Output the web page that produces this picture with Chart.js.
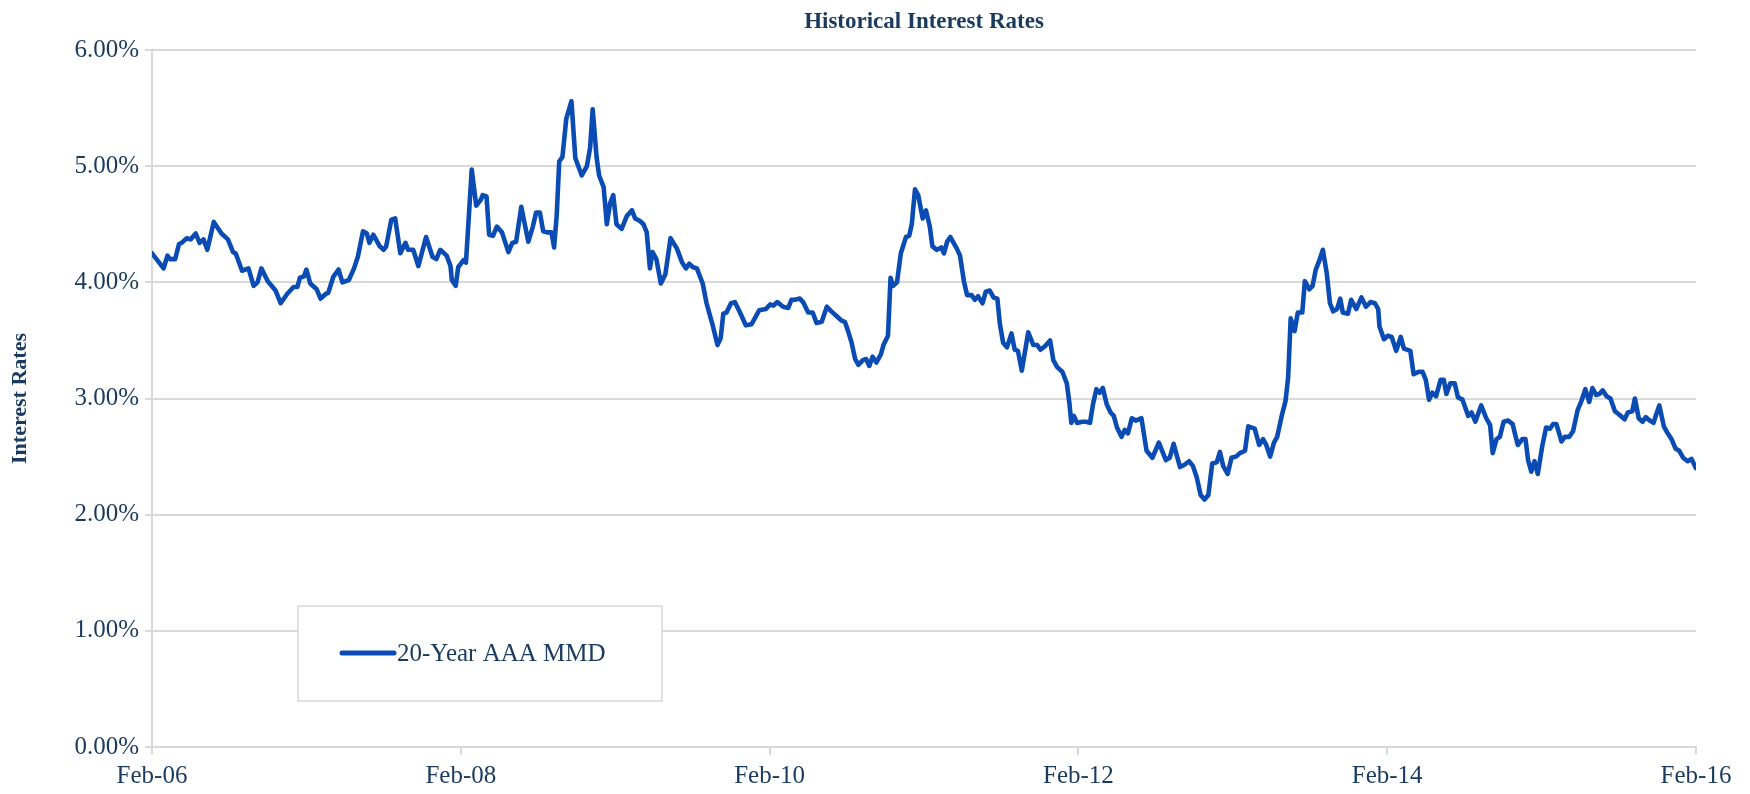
<!DOCTYPE html>
<html>
<head>
<meta charset="utf-8">
<title>Historical Interest Rates</title>
<script src="https://cdn.jsdelivr.net/npm/chart.js@4.4.1/dist/chart.umd.min.js"></script>
<style>
  html, body { margin: 0; padding: 0; background: #fff; }
  #wrap { width: 1750px; height: 794px; position: relative; }
</style>
</head>
<body>
<div id="wrap"><canvas id="rates"></canvas></div>
<script>
// months since Feb-06 (weekly-ish readings)
const obsMonths = [
  0, 0.9, 1.2, 1.4, 1.8, 2.1, 2.3, 2.7, 3.0, 3.4, 3.7, 4.0, 4.3, 4.8, 5.4, 5.9, 6.3, 6.5, 7.0, 7.5,
  7.9, 8.2, 8.5, 9.0, 9.6, 10.0, 10.5, 11.0, 11.3, 11.5, 11.8, 12.0, 12.3, 12.8, 13.1, 13.5, 13.7, 14.1, 14.5, 14.8,
  15.3, 15.7, 16.0, 16.4, 16.7, 16.9, 17.2, 17.7, 18.0, 18.2, 18.6, 18.9, 19.3, 19.7, 19.9, 20.3, 20.7, 21.3, 21.8, 22.1,
  22.4, 22.9, 23.2, 23.3, 23.6, 23.8, 24.2, 24.4, 24.85, 25.2, 25.55, 25.7, 26.0, 26.2, 26.5, 26.8, 27.2, 27.7, 28.0, 28.3,
  28.7, 28.9, 29.25, 29.6, 29.85, 30.15, 30.4, 30.7, 31.05, 31.25, 31.45, 31.65, 31.9, 32.2, 32.6, 32.9, 33.4, 33.8, 34.05, 34.25,
  34.55, 34.75, 35.1, 35.35, 35.6, 35.85, 36.1, 36.5, 36.9, 37.3, 37.55, 37.9, 38.2, 38.45, 38.7, 38.9, 39.2, 39.55, 39.9, 40.3,
  40.8, 41.2, 41.5, 41.75, 42.05, 42.35, 42.8, 43.1, 43.6, 43.95, 44.2, 44.4, 44.65, 45.0, 45.3, 45.7, 46.15, 46.6, 47.2, 47.7,
  48.05, 48.3, 48.6, 49.05, 49.45, 49.7, 49.95, 50.35, 50.6, 51.0, 51.35, 51.65, 52.05, 52.45, 52.8, 53.2, 53.6, 53.85, 54.1, 54.35,
  54.65, 54.9, 55.25, 55.5, 55.75, 56.0, 56.3, 56.65, 56.85, 57.2, 57.4, 57.6, 57.9, 58.2, 58.6, 58.85, 59.05, 59.3, 59.55, 59.9,
  60.15, 60.45, 60.65, 61.0, 61.35, 61.55, 61.8, 62.05, 62.55, 62.8, 63.1, 63.35, 63.7, 63.95, 64.2, 64.55, 64.8, 65.1, 65.4, 65.7,
  65.9, 66.15, 66.45, 66.8, 67.05, 67.3, 67.6, 68.1, 68.5, 68.8, 69.05, 69.4, 69.8, 70.05, 70.35, 70.75, 71.1, 71.3, 71.45, 71.65,
  71.9, 72.3, 72.6, 72.9, 73.15, 73.4, 73.65, 73.9, 74.2, 74.5, 74.75, 75.0, 75.35, 75.6, 75.85, 76.15, 76.45, 76.9, 77.3, 77.75,
  78.25, 78.8, 79.1, 79.4, 79.9, 80.25, 80.6, 80.9, 81.2, 81.5, 81.8, 82.1, 82.4, 82.75, 83.0, 83.25, 83.6, 83.9, 84.25, 84.55,
  84.95, 85.2, 85.7, 86.05, 86.35, 86.6, 86.9, 87.2, 87.45, 87.8, 88.1, 88.3, 88.5, 88.8, 89.05, 89.4, 89.6, 89.95, 90.2, 90.45,
  90.7, 91.0, 91.3, 91.55, 91.8, 92.1, 92.35, 92.55, 92.95, 93.2, 93.6, 94.0, 94.35, 94.7, 95.05, 95.3, 95.4, 95.75, 96.05, 96.35,
  96.7, 97.05, 97.3, 97.8, 98.05, 98.45, 98.75, 99.0, 99.25, 99.5, 99.8, 100.15, 100.4, 100.6, 100.9, 101.25, 101.5, 101.85, 102.3, 102.55,
  102.85, 103.3, 103.7, 104.0, 104.2, 104.5, 104.75, 105.05, 105.4, 105.75, 105.9, 106.15, 106.5, 106.75, 106.95, 107.2, 107.45, 107.7, 108.05, 108.35,
  108.65, 108.9, 109.15, 109.55, 109.8, 110.15, 110.45, 110.8, 111.1, 111.4, 111.7, 111.95, 112.25, 112.5, 112.75, 113.05, 113.35, 113.7, 114.05, 114.45,
  114.7, 115.05, 115.25, 115.55, 115.85, 116.1, 116.4, 116.7, 116.9, 117.15, 117.5, 117.8, 118.1, 118.4, 118.7, 119.0, 119.35, 119.65, 120.0
];

// 20-Year AAA MMD, percent
const mmdRates = [
  4.25, 4.12, 4.23, 4.20, 4.20, 4.33, 4.34, 4.38, 4.37, 4.42, 4.34, 4.37, 4.28, 4.52, 4.42, 4.37, 4.26, 4.25, 4.10, 4.12,
  3.97, 4.00, 4.12, 4.01, 3.93, 3.82, 3.90, 3.96, 3.96, 4.04, 4.05, 4.11, 3.99, 3.94, 3.86, 3.90, 3.91, 4.05, 4.11, 4.00,
  4.02, 4.12, 4.22, 4.44, 4.42, 4.34, 4.41, 4.31, 4.28, 4.31, 4.54, 4.55, 4.25, 4.34, 4.28, 4.28, 4.14, 4.39, 4.22, 4.20,
  4.28, 4.23, 4.14, 4.02, 3.97, 4.13, 4.19, 4.17, 4.97, 4.66, 4.71, 4.75, 4.74, 4.41, 4.40, 4.48, 4.43, 4.26, 4.34, 4.35,
  4.65, 4.54, 4.35, 4.48, 4.60, 4.60, 4.44, 4.43, 4.43, 4.30, 4.57, 5.04, 5.08, 5.41, 5.56, 5.07, 4.92, 5.00, 5.16, 5.49,
  5.08, 4.92, 4.82, 4.50, 4.68, 4.75, 4.50, 4.46, 4.57, 4.62, 4.55, 4.53, 4.50, 4.43, 4.12, 4.26, 4.20, 3.99, 4.07, 4.38,
  4.29, 4.17, 4.12, 4.16, 4.13, 4.12, 3.99, 3.82, 3.62, 3.46, 3.52, 3.73, 3.74, 3.82, 3.83, 3.74, 3.63, 3.64, 3.76, 3.77,
  3.81, 3.80, 3.83, 3.79, 3.78, 3.85, 3.85, 3.86, 3.83, 3.74, 3.74, 3.65, 3.66, 3.79, 3.75, 3.71, 3.67, 3.66, 3.58, 3.49,
  3.34, 3.29, 3.33, 3.34, 3.28, 3.36, 3.31, 3.38, 3.46, 3.54, 4.04, 3.97, 4.00, 4.25, 4.39, 4.40, 4.50, 4.80, 4.75, 4.55,
  4.62, 4.48, 4.31, 4.28, 4.30, 4.25, 4.35, 4.39, 4.29, 4.23, 4.01, 3.89, 3.89, 3.85, 3.88, 3.82, 3.92, 3.93, 3.87, 3.86,
  3.64, 3.48, 3.44, 3.56, 3.42, 3.41, 3.24, 3.57, 3.46, 3.46, 3.42, 3.45, 3.50, 3.33, 3.27, 3.23, 3.13, 2.96, 2.79, 2.85,
  2.79, 2.80, 2.80, 2.79, 2.96, 3.08, 3.05, 3.09, 2.95, 2.88, 2.85, 2.75, 2.67, 2.73, 2.70, 2.83, 2.81, 2.83, 2.55, 2.49,
  2.62, 2.47, 2.49, 2.61, 2.41, 2.43, 2.46, 2.42, 2.32, 2.17, 2.13, 2.17, 2.44, 2.45, 2.54, 2.42, 2.35, 2.49, 2.50, 2.53,
  2.55, 2.76, 2.74, 2.60, 2.65, 2.60, 2.50, 2.62, 2.67, 2.85, 2.98, 3.18, 3.69, 3.58, 3.74, 3.74, 4.01, 3.94, 3.97, 4.11,
  4.18, 4.28, 4.08, 3.82, 3.75, 3.77, 3.86, 3.74, 3.73, 3.85, 3.77, 3.87, 3.79, 3.83, 3.82, 3.77, 3.62, 3.51, 3.54, 3.53,
  3.41, 3.53, 3.43, 3.41, 3.21, 3.23, 3.23, 3.16, 2.99, 3.05, 3.02, 3.16, 3.16, 3.04, 3.13, 3.13, 3.01, 2.99, 2.85, 2.88,
  2.80, 2.94, 2.83, 2.77, 2.53, 2.65, 2.67, 2.80, 2.81, 2.78, 2.71, 2.60, 2.65, 2.65, 2.47, 2.37, 2.46, 2.35, 2.59, 2.75,
  2.74, 2.78, 2.78, 2.63, 2.67, 2.67, 2.72, 2.90, 2.98, 3.08, 2.97, 3.09, 3.03, 3.04, 3.07, 3.02, 3.00, 2.89, 2.86, 2.82,
  2.88, 2.89, 3.00, 2.83, 2.80, 2.84, 2.81, 2.79, 2.86, 2.94, 2.76, 2.70, 2.65, 2.57, 2.55, 2.49, 2.46, 2.48, 2.40
];

const xTickLabels = ['Feb-06', 'Feb-08', 'Feb-10', 'Feb-12', 'Feb-14', 'Feb-16'];
const seriesName = '20-Year AAA MMD';
const chartTitle = 'Historical Interest Rates';
const yAxisTitle = 'Interest Rates';

const NAVY = '#1a3b5e';
const LINE_BLUE = '#0a4cb4';
const GRID_GREY = '#d9d9d9';
const SERIF = "'Liberation Serif', 'Times New Roman', serif";

Chart.defaults.font.family = SERIF;
Chart.defaults.color = NAVY;

/** Draws the title centred over the plot area (Excel style) */
const plotTitle = {
  id: 'plotTitle',
  afterDraw(chart) {
    const { ctx, chartArea } = chart;
    ctx.save();
    ctx.font = `bold 23px ${SERIF}`;
    ctx.fillStyle = NAVY;
    ctx.textAlign = 'center';
    ctx.textBaseline = 'middle';
    ctx.fillText(chartTitle, (chartArea.left + chartArea.right) / 2, 22);
    ctx.restore();
  }
};

/** Boxed legend sitting inside the plot area, lower left */
const boxLegend = {
  id: 'boxLegend',
  afterDatasetsDraw(chart) {
    const { ctx, chartArea } = chart;
    const bx = chartArea.left + 146;
    const by = chartArea.top + 556;
    const bw = 364;
    const bh = 95;
    const midY = by + 47;
    ctx.save();
    ctx.fillStyle = '#fff';
    ctx.fillRect(bx, by, bw, bh);
    ctx.strokeStyle = GRID_GREY;
    ctx.lineWidth = 1.5;
    ctx.strokeRect(bx, by, bw, bh);

    ctx.strokeStyle = LINE_BLUE;
    ctx.lineWidth = 5;
    ctx.lineCap = 'round';
    ctx.beginPath();
    ctx.moveTo(bx + 44, midY);
    ctx.lineTo(bx + 96, midY);
    ctx.stroke();

    ctx.font = `25px ${SERIF}`;
    ctx.fillStyle = NAVY;
    ctx.textAlign = 'left';
    ctx.textBaseline = 'middle';
    ctx.fillText(chart.data.datasets[0].label, bx + 99, midY + 1);
    ctx.restore();
  }
};

function buildPoints(months, values) {
  return months.map((m, i) => ({ x: m, y: values[i] }));
}

const ctx = document.getElementById('rates').getContext('2d');
window.myChart = new Chart(ctx, {
  type: 'line',
  data: {
    datasets: [{
      label: seriesName,
      data: buildPoints(obsMonths, mmdRates),
      borderColor: LINE_BLUE,
      borderWidth: 4.6,
      borderJoinStyle: 'round',
      borderCapStyle: 'round',
      pointRadius: 0,
      tension: 0,
      fill: false
    }]
  },
  options: {
    responsive: true,
    maintainAspectRatio: false,
    animation: false,
    layout: {
      padding: { top: 50, right: 54, left: 0, bottom: 0 }
    },
    plugins: {
      legend: { display: false },
      title: { display: false },
      tooltip: { enabled: false }
    },
    scales: {
      x: {
        type: 'linear',
        min: 0,
        max: 120,
        afterFit: scale => { scale.height = 47; },
        afterBuildTicks: scale => {
          scale.ticks = xTickLabels.map((_, i) => ({ value: i * 24 }));
        },
        grid: {
          drawOnChartArea: false,
          drawTicks: true,
          tickLength: 8,
          color: GRID_GREY,
          lineWidth: 2
        },
        border: { color: GRID_GREY, width: 2 },
        ticks: {
          padding: 6,
          maxRotation: 0,
          autoSkip: false,
          font: { size: 25 },
          callback: value => xTickLabels[Math.round(value / 24)]
        }
      },
      y: {
        min: 0,
        max: 6,
        afterFit: scale => { scale.width = 152; },
        grid: {
          color: GRID_GREY,
          lineWidth: 2,
          tickLength: 7
        },
        border: { color: GRID_GREY, width: 2 },
        ticks: {
          stepSize: 1,
          padding: 6,
          font: { size: 25 },
          callback: value => value.toFixed(2) + '%'
        },
        title: {
          display: true,
          text: yAxisTitle,
          font: { size: 22, weight: 'bold' },
          padding: { top: 7, bottom: 0 }
        }
      }
    }
  },
  plugins: [plotTitle, boxLegend]
});
</script>
</body>
</html>
